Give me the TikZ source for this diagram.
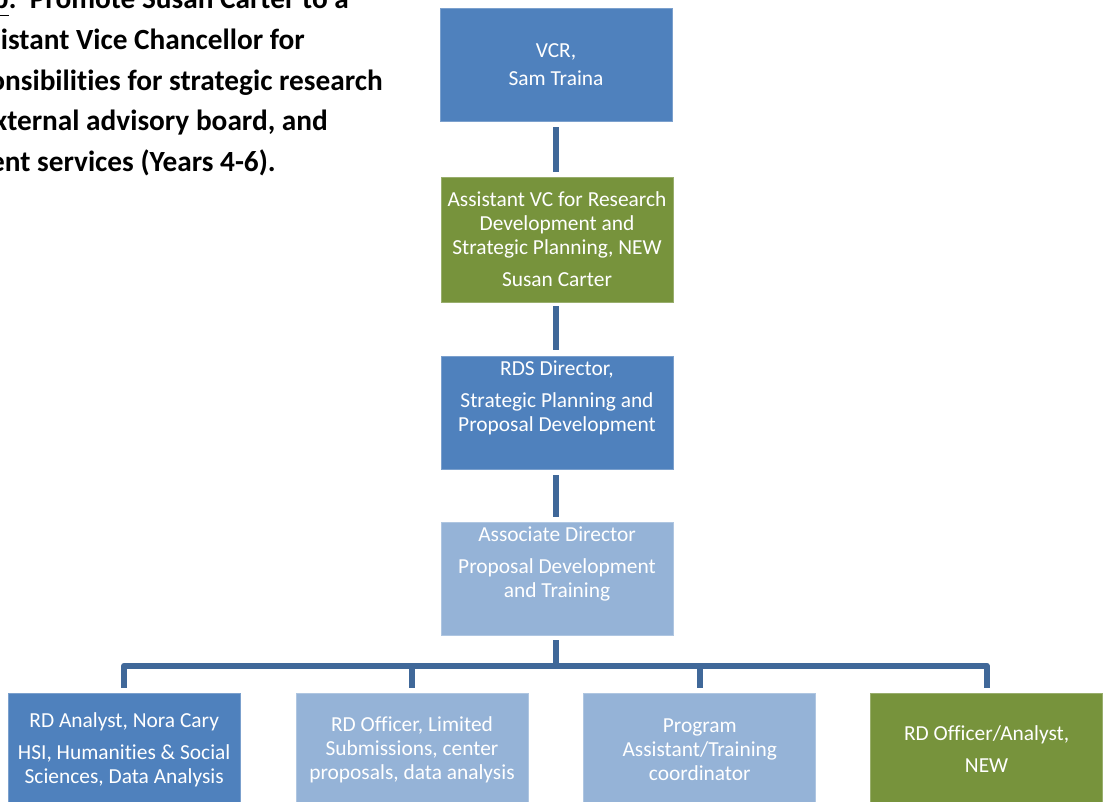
\documentclass[tikz,border=0pt]{standalone}
\usepackage{fontspec}
\setmainfont{Carlito}[Ligatures=NoCommon]
\usetikzlibrary{positioning}
\definecolor{boxB}{RGB}{79,129,189}
\definecolor{boxG}{RGB}{119,147,60}
\definecolor{boxL}{RGB}{149,179,215}
\definecolor{lnB}{RGB}{64,104,153}
\tikzset{
  orgbox/.style={minimum width=232pt, minimum height=113pt, inner sep=0pt,
    align=center, text=white, font=\fontsize{21.4}{24}\selectfont,
    fill=#1, draw=#1!75!white, line width=0.8pt},
  orgline/.style={draw=lnB, line width=6pt, line join=round},
  headline/.style={anchor=base east, inner sep=0pt,
    font=\fontsize{29.3}{40}\selectfont\bfseries}
}

\begin{document}
\begin{tikzpicture}[x=1pt,y=-1pt]
\useasboundingbox (0,0) rectangle (1107,802);
\clip (0,0) rectangle (1107,802);
% heading, cut off by the page edge
\node[headline] (head1) at (349,9) {\underline{Option 2b}:\ \ Promote Susan Carter to a};
\node[headline] (head2) at (305,50) {Assistant Vice Chancellor for};
\node[headline] (head3) at (383,90.5) {responsibilities for strategic research};
\node[headline] (head4) at (328,131) {external advisory board, and};
\node[headline] (head5) at (276,171.5) {development services (Years 4-6).};
% chain of command
\node[orgbox=boxB] (vcr) at (556,64.5) {VCR,\\[4pt]Sam Traina};
\node[orgbox=boxG, minimum height=125pt] (avc) at (557,239.5)
  {Assistant VC for Research\\Development and\\Strategic Planning, NEW\\[8pt]Susan Carter};
\node[orgbox=boxB] (rds) at (557,412.5)
  {RDS Director,\\[8pt]Strategic Planning and\\Proposal Development\\[8pt]\mbox{}};
\node[orgbox=boxL] (asd) at (557,578.5)
  {Associate Director\\[8pt]Proposal Development\\and Training\\[8pt]\mbox{}};
% bottom row
\node[orgbox=boxL] (ro) at (412,749.5)
  {RD Officer, Limited\\Submissions, center\\proposals, data analysis};
\node[orgbox=boxB, left=55pt of ro] (ra)
  {RD Analyst, Nora Cary\\[8pt]HSI, Humanities \& Social\\Sciences, Data Analysis};
\node[orgbox=boxL, right=55pt of ro] (pa)
  {Program\\Assistant/Training\\coordinator};
\node[orgbox=boxG, right=54pt of pa] (rn) {RD Officer/Analyst,\\[8pt]NEW};
% connectors
\draw[orgline] ([yshift=-6pt]vcr.south) -- ([yshift=5pt]vcr.south |- avc.north);
\draw[orgline] ([yshift=-4pt]vcr.south |- avc.south) -- ([yshift=6pt]vcr.south |- rds.north);
\draw[orgline] ([yshift=-6pt]vcr.south |- rds.south) -- ([yshift=5pt]vcr.south |- asd.north);
\coordinate (bus) at (556,665.5);
\draw[orgline] ([yshift=-5pt]vcr.south |- asd.south) -- (bus);
\draw[orgline] ([yshift=5pt]ra.north) -- (ra.north |- bus) -- (rn.north |- bus)
  -- ([yshift=5pt]rn.north);
\foreach \b in {ro,pa}
  \draw[orgline] ([yshift=5pt]\b.north) -- (\b.north |- bus);
\end{tikzpicture}
\end{document}
